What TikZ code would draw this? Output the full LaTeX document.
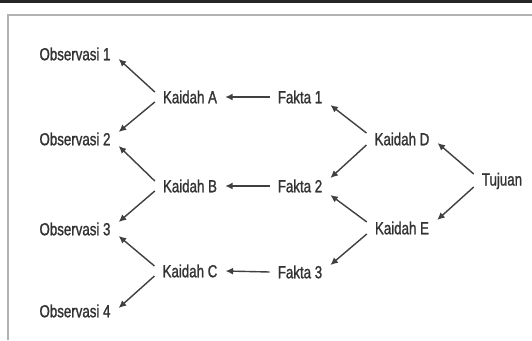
\documentclass[tikz,border=0pt]{standalone}
\usepackage{fontspec}
\setmainfont{Liberation Sans}[FakeStretch=0.76, FakeBold=1.2]
\usepackage{tikz}
\usetikzlibrary{arrows.meta}

\tikzset{
    lbl/.style={inner xsep=8pt, inner ysep=2pt, text=black!80, font=\fontsize{17.5}{20}\selectfont},
    arr/.style={line width=1.4pt, draw=black!75, -{Latex[length=7.5pt,width=7pt]}}
}

\begin{document}
\begin{tikzpicture}[x=1pt,y=-1pt]
        \useasboundingbox (0,0) rectangle (532,340);
        \fill [fill=white](0,0) rectangle (532,340);
        % frame
        \fill [fill=black!85](0,0) rectangle (532,3);
        \draw [line width=2pt, color=black!30](8,340) -- (8,15) -- (532,15);

		\node[lbl] (obsA) at (75,54) {Observasi 1};
		\node[lbl] (obsB) at (75,139) {Observasi 2};
		\node[lbl] (obsC) at (75,229) {Observasi 3};
		\node[lbl] (obsD) at (75,311) {Observasi 4};

		\node[lbl] (kA) at (190,97) {Kaidah A};
		\node[lbl] (kB) at (190,186) {Kaidah B};
		\node[lbl] (kC) at (190,271) {Kaidah C};

		\node[lbl] (fA) at (300,97) {Fakta 1};
		\node[lbl] (fB) at (300,186) {Fakta 2};
		\node[lbl] (fC) at (300,272) {Fakta 3};

		\node[lbl] (kD) at (402,139) {Kaidah D};
		\node[lbl] (kE) at (402,228) {Kaidah E};
		\node[lbl] (tuj) at (502,181) {Tujuan};

		\draw [arr]([yshift=5pt]kA.west) -- ([yshift=-5pt]obsA.east);
		\draw [arr]([yshift=-5pt]kA.west) -- ([yshift=7pt]obsB.east);
		\draw [arr]([yshift=5pt]kB.west) -- ([yshift=-7pt]obsB.east);
		\draw [arr]([yshift=-5pt]kB.west) -- ([yshift=7pt]obsC.east);
		\draw [arr]([yshift=5pt]kC.west) -- ([yshift=-7pt]obsC.east);
		\draw [arr]([yshift=-5pt]kC.west) -- ([yshift=3pt]obsD.east);

		\draw [arr](fA.west) -- (kA.east);
		\draw [arr](fB.west) -- (kB.east);
		\draw [arr](fC.west) -- (kC.east);

		\draw [arr]([yshift=6pt]kD.west) -- ([yshift=-8pt]fA.east);
		\draw [arr]([yshift=-6pt]kD.west) -- ([yshift=8pt]fB.east);
		\draw [arr]([yshift=6pt]kE.west) -- ([yshift=-9pt]fB.east);
		\draw [arr]([yshift=-6pt]kE.west) -- ([yshift=7pt]fC.east);

		\draw [arr]([yshift=7pt]tuj.west) -- ([yshift=-4pt]kD.east);
		\draw [arr]([yshift=-6pt]tuj.west) -- ([yshift=8pt]kE.east);
	\end{tikzpicture}
\end{document}
